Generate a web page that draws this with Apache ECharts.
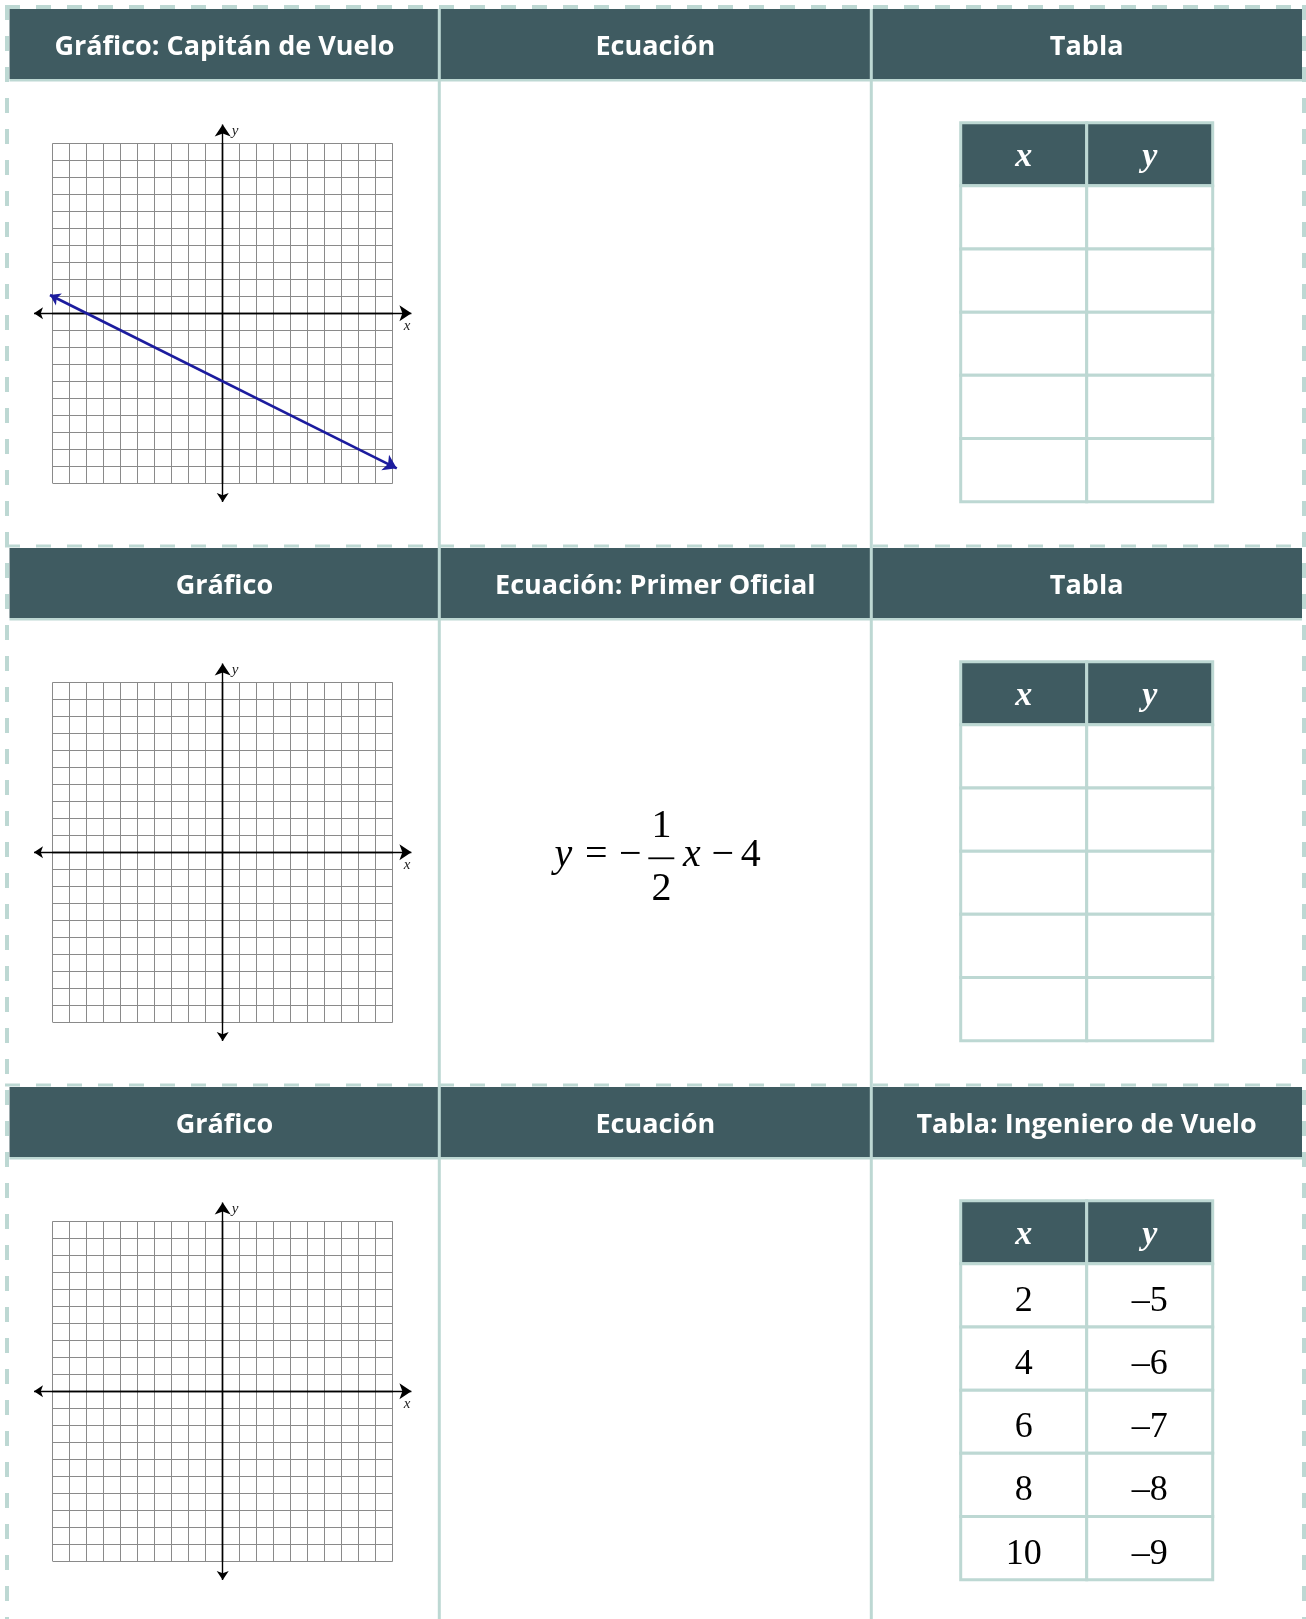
<!DOCTYPE html>
<html>
<head>
<meta charset="utf-8">
<title>Gráfico - Ecuación - Tabla</title>
<script src="https://cdn.jsdelivr.net/npm/echarts@6/dist/echarts.min.js"></script>
<style>
html, body { margin: 0; padding: 0; background: #fff; }
#main { width: 1306px; height: 1619px; }
</style>
</head>
<body>
<div id="main"></div>
<script>
// encabezados de cada fila
var headerRow1 = ['Gráfico: Capitán de Vuelo', 'Ecuación', 'Tabla'];
var headerRow2 = ['Gráfico', 'Ecuación: Primer Oficial', 'Tabla'];
var headerRow3 = ['Gráfico', 'Ecuación', 'Tabla: Ingeniero de Vuelo'];
var headers = [headerRow1, headerRow2, headerRow3];

// plano cartesiano de -10 a 10
var axisMin = -10;
var axisMax = 10;
var axisStep = 1;
var axisArrowEnd = 11.1; // punta de las flechas de los ejes

// recta del capitan (puntas de flecha)
var captainX = [-10.16, 10.24];
var captainY = [1.08, -9.12];

// ecuacion del primer oficial: y = -1/2 x - 4
var slopeNum = 1;
var slopeDen = 2;
var intercept = 4;

// tablas
var tableCols = ['x', 'y'];
var tableRowsCount = 5;
var engineerX = [2, 4, 6, 8, 10];
var engineerY = [-5, -6, -7, -8, -9];

// colores
var dark = '#3f5b61';
var light = '#bdd8d3';

// medidas de la pagina
var rowPitch = 539;
var headTop = 9;
var headH = 70;
var colX = [9.5, 439.3, 871.3, 1302];
var plotLeft = 52.7, plotTop = 143.3, plotSize = 340;
var tableLeft = 960.7, tableTop = 122.7, tableW = 252, tableH = 379;

var chart = echarts.init(document.getElementById('main'), null, { renderer: 'canvas' });

function fmtNum(v) {
    return v < 0 ? '\u2013' + Math.abs(v) : String(v);
}

function tableCells(xs, ys) {
    var cells = [];
    tableCols.forEach(function (c, j) { cells.push([j, 0, c, 1]); });
    for (var r = 0; r < tableRowsCount; r++) {
        cells.push([0, r + 1, xs ? fmtNum(xs[r]) : '', 0]);
        cells.push([1, r + 1, ys ? fmtNum(ys[r]) : '', 0]);
    }
    return cells;
}

function cellRenderer(cells) {
    return function (params, api) {
        var c = cells[params.dataIndex];
        var p0 = api.coord([c[0], c[1]]);
        var p1 = api.coord([c[0] + 1, c[1] + 1]);
        var head = c[3] === 1;
        return {
            type: 'group',
            children: [{
                type: 'rect',
                shape: { x: p0[0], y: p0[1], width: p1[0] - p0[0], height: p1[1] - p0[1] },
                style: { fill: head ? dark : '#fff', stroke: light, lineWidth: 3 }
            }, {
                type: 'text',
                style: {
                    x: (p0[0] + p1[0]) / 2,
                    y: (p0[1] + p1[1]) / 2 + (head ? 2.5 : 6),
                    text: c[2],
                    align: 'center',
                    verticalAlign: 'middle',
                    fill: head ? '#fff' : '#000',
                    font: head ? 'italic bold 34px "Liberation Serif"' : '36px "Liberation Serif"'
                }
            }]
        };
    };
}

var grids = [], xAxes = [], yAxes = [], series = [];
var tables = [tableCells(null, null), tableCells(null, null), tableCells(engineerX, engineerY)];

for (var i = 0; i < 3; i++) {
    // plano
    grids.push({ left: plotLeft, top: plotTop + rowPitch * i, width: plotSize, height: plotSize });
    xAxes.push({
        gridIndex: 2 * i, type: 'value', min: axisMin, max: axisMax, interval: axisStep,
        axisLine: { onZero: true, lineStyle: { color: '#000', width: 1.4 } },
        axisTick: { show: false }, axisLabel: { show: false },
        splitLine: { show: true, lineStyle: { color: '#8a8a8a', width: 1 } },
        name: 'x', nameLocation: 'end', nameGap: 11,
        nameTextStyle: { fontFamily: 'Liberation Serif', fontStyle: 'italic', fontSize: 15, color: '#222', align: 'left', verticalAlign: 'top', padding: [5, 0, 0, 0] }
    });
    yAxes.push({
        gridIndex: 2 * i, type: 'value', min: axisMin, max: axisMax, interval: axisStep,
        axisLine: { onZero: true, lineStyle: { color: '#000', width: 1.4 } },
        axisTick: { show: false }, axisLabel: { show: false },
        splitLine: { show: true, lineStyle: { color: '#8a8a8a', width: 1 } },
        name: 'y', nameLocation: 'end', nameGap: 5,
        nameTextStyle: { fontFamily: 'Liberation Serif', fontStyle: 'italic', fontSize: 15, color: '#222', align: 'left', verticalAlign: 'bottom', padding: [0, 0, 0, 9] }
    });
    series.push({
        type: 'lines', coordinateSystem: 'cartesian2d', xAxisIndex: 2 * i, yAxisIndex: 2 * i,
        clip: false, silent: true, symbol: ['arrow', 'arrow'], symbolSize: [9, 12],
        lineStyle: { color: '#000', width: 1.4, opacity: 1 },
        data: [
            { coords: [[-axisArrowEnd, 0], [axisArrowEnd, 0]] },
            { coords: [[0, -axisArrowEnd], [0, axisArrowEnd]] }
        ]
    });

    // tabla
    grids.push({ left: tableLeft, top: tableTop + rowPitch * i, width: tableW, height: tableH });
    xAxes.push({ gridIndex: 2 * i + 1, type: 'value', min: 0, max: 2, show: false, splitLine: { show: false } });
    yAxes.push({ gridIndex: 2 * i + 1, type: 'value', min: 0, max: tableRowsCount + 1, inverse: true, show: false, splitLine: { show: false } });
    series.push({
        type: 'custom', xAxisIndex: 2 * i + 1, yAxisIndex: 2 * i + 1, silent: true,
        renderItem: cellRenderer(tables[i]),
        data: tables[i].map(function (c) { return [c[0], c[1]]; })
    });
}

// recta del capitan
series.push({
    type: 'lines', coordinateSystem: 'cartesian2d', xAxisIndex: 0, yAxisIndex: 0,
    clip: false, silent: true, symbol: ['arrow', 'arrow'], symbolSize: [10, 13], z: 5,
    lineStyle: { color: '#1c1c9e', width: 2.7, opacity: 1 },
    data: [{ coords: [[captainX[0], captainY[0]], [captainX[1], captainY[1]]] }]
});

// marco de la pagina
var graphics = [];
for (var r = 0; r < 3; r++) {
    var headY = headTop + rowPitch * r;
    graphics.push({ type: 'rect', z: 1, shape: { x: colX[0], y: headY, width: colX[3] - colX[0], height: headH }, style: { fill: dark } });
    graphics.push({ type: 'line', z: 2, shape: { x1: colX[0], y1: headY + headH + 1.3, x2: colX[3], y2: headY + headH + 1.3 }, style: { stroke: light, lineWidth: 2.6 } });
    graphics.push({ type: 'line', z: 2, shape: { x1: 5, y1: headY - 2, x2: 1306, y2: headY - 2 }, style: { stroke: light, lineWidth: r === 0 ? 4 : 3, lineDash: [15, 16] } });
    headers[r].forEach(function (t, j) {
        graphics.push({
            type: 'text', z: 3,
            style: {
                x: (colX[j] + colX[j + 1]) / 2, y: headY + headH / 2 + 3.5,
                text: t, align: 'center', verticalAlign: 'middle',
                fill: '#fff', font: 'bold 27px "Open Sans"'
            }
        });
    });
}
[439.3, 871.3].forEach(function (x) {
    graphics.push({ type: 'line', z: 2, shape: { x1: x, y1: headTop, x2: x, y2: 1619 }, style: { stroke: light, lineWidth: 3 } });
});
[7, 1304].forEach(function (x) {
    graphics.push({ type: 'line', z: 2, shape: { x1: x, y1: 5, x2: x, y2: 1619 }, style: { stroke: light, lineWidth: 4, lineDash: [15, 16] } });
});

// ecuacion
var cx = (colX[1] + colX[2]) / 2;
var base = 869;
var mid = base - 13.5;
var eqFont = '40px "Liberation Serif"';
var eqItal = 'italic 40px "Liberation Serif"';
function eqText(x, y, t, f) {
    graphics.push({ type: 'text', z: 3, style: { x: x, y: y, text: t, align: 'center', verticalAlign: 'middle', fill: '#000', font: f } });
}
eqText(cx - 92, mid, 'y', eqItal);
eqText(cx - 59, mid, '=', eqFont);
eqText(cx - 25, mid, '\u2212', eqFont);
eqText(cx + 6.3, mid - 29, String(slopeNum), eqFont);
eqText(cx + 6.3, mid + 33.5, String(slopeDen), eqFont);
graphics.push({ type: 'line', z: 3, shape: { x1: cx - 7, y1: base - 10.7, x2: cx + 19, y2: base - 10.7 }, style: { stroke: '#000', lineWidth: 1.8 } });
eqText(cx + 36.5, mid, 'x', eqItal);
eqText(cx + 67.5, mid, '\u2212', eqFont);
eqText(cx + 95.5, mid, String(intercept), eqFont);

chart.setOption({
    backgroundColor: '#ffffff',
    animation: false,
    grid: grids,
    xAxis: xAxes,
    yAxis: yAxes,
    series: series,
    graphic: graphics
});
</script>
</body>
</html>
